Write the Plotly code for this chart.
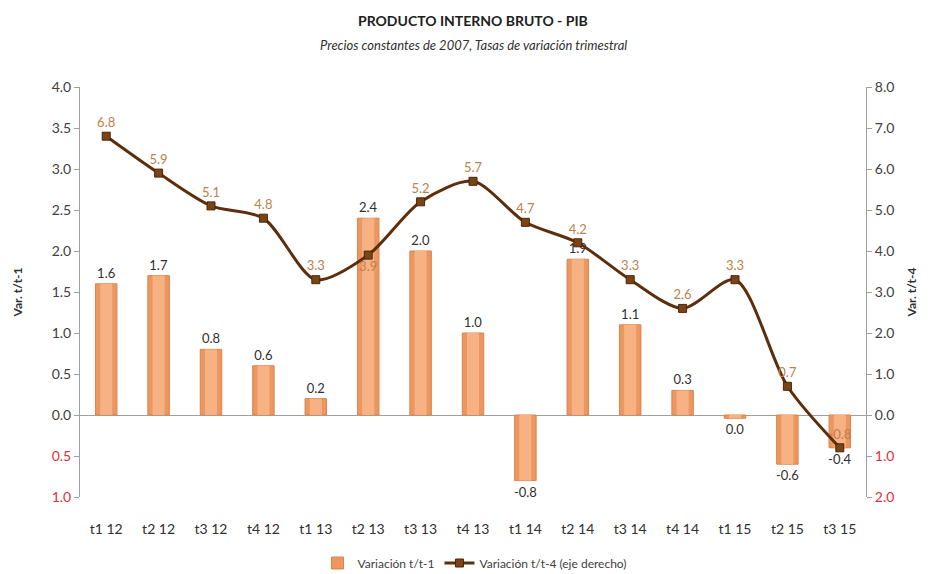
import plotly.graph_objects as go

categories = ["t1 12", "t2 12", "t3 12", "t4 12", "t1 13", "t2 13", "t3 13", "t4 13",
              "t1 14", "t2 14", "t3 14", "t4 14", "t1 15", "t2 15", "t3 15"]
var_t1 = [1.6, 1.7, 0.8, 0.6, 0.2, 2.4, 2.0, 1.0, -0.8, 1.9, 1.1, 0.3, -0.04, -0.6, -0.4]
var_t4 = [6.8, 5.9, 5.1, 4.8, 3.3, 3.9, 5.2, 5.7, 4.7, 4.2, 3.3, 2.6, 3.3, 0.7, -0.8]
line_label_pos = ["top center", "top center", "top center", "top center", "top center",
                  "bottom center", "top center", "top center", "top center", "top center",
                  "top center", "top center", "top center", "top center", "top center"]
left_ticks = [-1, -0.5, 0, 0.5, 1, 1.5, 2, 2.5, 3, 3.5, 4]
right_ticks = [-2, -1, 0, 1, 2, 3, 4, 5, 6, 7, 8]

FONT = "Lato, 'Open Sans', sans-serif"
RED = "#E0303A"
AXIS_TXT = "#404040"

# the page body adds an 8px offset; figure is sized/placed to compensate
OFF = 8
W, H = 933 - OFF, 574 - OFF
ML, MT, MR, MB = 80 - OFF, 87 - OFF, 67, 77
plot_h = H - MT - MB
plot_w = W - ML - MR


def fmt(v):
    s = f"{v:.1f}"
    return "0.0" if s == "-0.0" else s


def tick_text(vals):
    out = []
    for v in vals:
        s = f"{abs(v):.1f}"
        out.append(f"<span style='color:{RED}'>{s}</span>" if v < 0 else s)
    return out


fig = go.Figure()
# outer (darker edge) bar
fig.add_trace(go.Bar(
    x=categories, y=var_t1, name="Variación t/t-1",
    marker=dict(color="#EC9660", line=dict(color="#D9844E", width=1)),
    width=0.41,
    text=[fmt(v) for v in var_t1], textposition="outside", constraintext="none",
    textfont=dict(family=FONT, size=13, color="#303030"),
    cliponaxis=False, yaxis="y",
))
# inner highlight of the same bars (gradient imitation)
fig.add_trace(go.Bar(
    x=categories, y=var_t1, name="Variación t/t-1", showlegend=False,
    marker=dict(color="#F6B283", line=dict(width=0)),
    width=0.23, hoverinfo="skip", yaxis="y",
))
fig.add_trace(go.Scatter(
    x=categories, y=var_t4, name="Variación t/t-4 (eje derecho)",
    mode="lines+markers+text",
    line=dict(color="#5C2E0C", width=3, shape="spline", smoothing=0.8),
    marker=dict(symbol="square", size=8, color="#7A4516", line=dict(color="#4A2408", width=1)),
    text=[fmt(v) for v in var_t4], textposition=line_label_pos,
    textfont=dict(family=FONT, size=13, color="#C0804A"),
    cliponaxis=False, yaxis="y2",
))

fig.update_layout(
    width=W, height=H,
    margin=dict(l=ML, r=MR, t=MT, b=MB, autoexpand=False),
    paper_bgcolor="white", plot_bgcolor="white",
    font=dict(family=FONT, size=13, color=AXIS_TXT),
    showlegend=True,
    barmode="overlay",
    legend=dict(orientation="h", x=(475 - OFF - ML) / plot_w, xanchor="center",
                y=-(563 - 497) / plot_h, yanchor="middle",
                font=dict(size=12, color="#404040")),
    xaxis=dict(range=[-0.5, 14.5], showline=False, ticks="",
               tickfont=dict(size=14, color="#303030"),
               showgrid=False, automargin=False, ticklabelstandoff=22),
    yaxis=dict(range=[-1, 4], tickvals=left_ticks, ticktext=tick_text(left_ticks),
               showline=True, linecolor="#A0A0A0", ticks="outside", tickcolor="#A0A0A0",
               ticklen=5, showgrid=False, zeroline=True, zerolinecolor="#A0A0A0",
               zerolinewidth=1, automargin=False, tickfont=dict(size=14),
               title=dict(text="<b>Var. t/t-1</b>", font=dict(size=12, color="#303030"), standoff=26)),
    yaxis2=dict(range=[-2, 8], tickvals=right_ticks, ticktext=tick_text(right_ticks),
                overlaying="y", side="right",
                showline=True, linecolor="#A0A0A0", ticks="outside", tickcolor="#A0A0A0",
                ticklen=5, showgrid=False, zeroline=False, automargin=False,
                tickfont=dict(size=14),
                title=dict(text="<b>Var. t/t-4</b>", font=dict(size=12, color="#303030"), standoff=14)),
    annotations=[
        dict(text="<b>PRODUCTO INTERNO BRUTO - PIB</b>", x=0.5, xref="paper", xanchor="center",
             y=1 + (87 - 20) / plot_h, yref="paper", yanchor="middle", showarrow=False,
             font=dict(size=14, color="#202020")),
        dict(text="<i>Precios constantes de 2007, Tasas de variación trimestral</i>", x=0.5,
             xref="paper", xanchor="center", y=1 + (87 - 45) / plot_h, yref="paper",
             yanchor="middle", showarrow=False, font=dict(size=13, color="#303030")),
    ],
)

fig.write_html("out.html")
